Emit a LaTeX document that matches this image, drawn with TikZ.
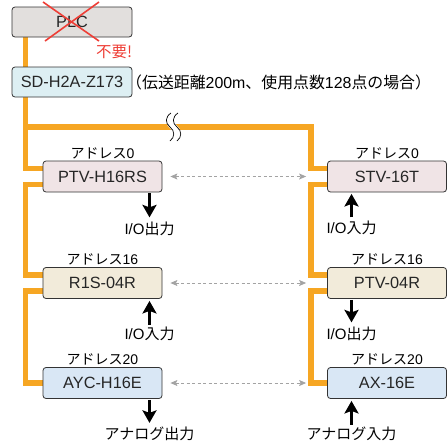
\documentclass[tikz,border=0pt]{standalone}
\usepackage{fontspec}
\setmainfont{Liberation Sans}
\newfontfamily\jp{Noto Sans CJK JP}
\usetikzlibrary{
  arrows.meta,
  backgrounds,
  positioning
}
\definecolor{bus orange}{HTML}{F6A623}
\definecolor{plc gray}{HTML}{E2DFDD}
\definecolor{master cyan}{HTML}{DDEFF3}
\definecolor{row pink}{HTML}{F0E4E6}
\definecolor{row cream}{HTML}{F2EBDA}
\definecolor{row blue}{HTML}{D9E7F5}
\definecolor{cross red}{HTML}{EE3E36}
\definecolor{link gray}{HTML}{A3A3A3}
\tikzset{
  % For the unit boxes.
  unit box/.style={
    draw=black!80,
    line width=0.8pt,
    rounded corners=3pt,
    minimum width=119pt,
    minimum height=31pt,
    inner sep=0pt,
    text=black!85,
    font=\fontsize{16.3}{16.3}\selectfont},
%
  % For the orange bus.
  bus line/.style={
    draw=bus orange,
    line width=5.5pt},
%
  % For the break in the bus.
  break line/.style={
    line width=0.7pt},
%
  % For crossing out.
  cross line/.style={
    draw=cross red,
    line width=1.6pt},
%
  % For the links between both sides.
  link arrow/.style={
    draw=link gray,
    line width=0.8pt,
    dash pattern=on 3pt off 2.5pt,
    arrows={Stealth[length=7pt,width=6pt,inset=1.5pt]-Stealth[length=7pt,width=6pt,inset=1.5pt]}},
%
  % For I/O arrows.
  io arrow/.style={
    line width=3pt,
    arrows={-Stealth[length=12.5pt,width=14pt,inset=2.5pt]}},
%
  % For addresses above the boxes.
  address/.style={
    inner sep=0pt,
    font=\fontsize{14}{14}\selectfont},
%
  % For I/O labels.
  io label/.style={
    inner sep=0pt,
    font=\fontsize{15}{15}\selectfont},
}

\begin{document}
\begin{tikzpicture}[x=1pt,y=-1pt]
  \useasboundingbox (0,0) rectangle (447,445);

  \node[unit box, fill=plc gray, minimum width=120pt, minimum height=30pt] (PLC) at (72,22) {PLC};
  \node[unit box, fill=master cyan, minimum width=120pt, minimum height=30pt] (SD) at (72,82) {SD-H2A-Z173};
  \node[anchor=west, inner sep=0pt, font=\fontsize{15.9}{15.9}\selectfont] (note) at (126,82)
    {{\jp （伝送距離}200m{\jp 、使用点数}128{\jp 点の場合）}};

  \draw[cross line] ([shift={(-29,-20)}]PLC.center) -- ([shift={(27,19)}]PLC.center);
  \draw[cross line] ([shift={(27,-20)}]PLC.center) -- ([shift={(-27,19)}]PLC.center);
  \node[inner sep=0pt, text=cross red, font=\fontsize{15.5}{15.5}\selectfont,
    below left=8pt and 0pt of PLC.south east] (unneeded) {\jp 不要!};

  % Left column.
  \node[unit box, fill=row pink] (PTVH) at (102.5,176.5) {PTV-H16RS};
  \node[unit box, fill=row cream] (R1S) at (102.5,283) {R1S-04R};
  \node[unit box, fill=row blue] (AYC) at (102.5,383) {AYC-H16E};
  % Right column.
  \node[unit box, fill=row pink] (STV) at (387,176.5) {STV-16T};
  \node[unit box, fill=row cream] (PTV) at (387,283) {PTV-04R};
  \node[unit box, fill=row blue] (AX) at (387,383) {AX-16E};

  \node[address, above=1.5pt of PTVH] (PTVH addr) {{\jp アドレス}0};
  \node[address, above=1.5pt of R1S] (R1S addr) {{\jp アドレス}16};
  \node[address, above=1.5pt of AYC] (AYC addr) {{\jp アドレス}20};
  \node[address, above=1.5pt of STV] (STV addr) {{\jp アドレス}0};
  \node[address, above=1.5pt of PTV] (PTV addr) {{\jp アドレス}16};
  \node[address, above=1.5pt of AX] (AX addr) {{\jp アドレス}20};

  \node[io label] (PTVH io) at (149.5,228.5) {I/O{\jp 出力}};
  \node[io label] (R1S io) at (149.5,334) {I/O{\jp 入力}};
  \node[io label] (AYC io) at (149.5,434) {\jp アナログ出力};
  \node[io label] (STV io) at (351.5,227.5) {I/O{\jp 入力}};
  \node[io label] (PTV io) at (351.5,333.5) {I/O{\jp 出力}};
  \node[io label] (AX io) at (351.5,434) {\jp アナログ入力};

  \draw[io arrow, shorten <=1pt, shorten >=4pt] (PTVH.south -| PTVH io) -- (PTVH io);
  \draw[io arrow, shorten <=2pt, shorten >=2pt] (R1S io) -- (R1S.south -| R1S io);
  \draw[io arrow, shorten <=1pt, shorten >=4pt] (AYC.south -| AYC io) -- (AYC io);
  \draw[io arrow, shorten <=3pt, shorten >=1.5pt] (STV io) -- (STV.south -| STV io);
  \draw[io arrow, shorten <=1pt, shorten >=4pt] (PTV.south -| PTV io) -- (PTV io);
  \draw[io arrow, shorten <=2pt, shorten >=2pt] (AX io) -- (AX.south -| AX io);

  \draw[link arrow, shorten <=8pt, shorten >=21pt] (PTVH) -- (STV);
  \draw[link arrow, shorten <=8pt, shorten >=21pt] (R1S) -- (PTV);
  \draw[link arrow, shorten <=8pt, shorten >=21pt] (AYC) -- (AX);

  \coordinate (T) at (25.5,127);
  \coordinate (R) at (311,127);
  \coordinate (brk) at (173.5,127);
  \coordinate (PTVH in) at ([yshift=8pt]PTVH.west);
  \coordinate (PTVH out) at ([yshift=-8pt]PTVH.west);
  \coordinate (R1S in) at ([yshift=8pt]R1S.west);
  \coordinate (R1S out) at ([yshift=-8pt]R1S.west);
  \coordinate (STV in) at ([yshift=8pt]STV.west);
  \coordinate (STV out) at ([yshift=-8pt]STV.west);
  \coordinate (PTV in) at ([yshift=8pt]PTV.west);
  \coordinate (PTV out) at ([yshift=-8pt]PTV.west);

  \begin{pgfonlayer}{background}
    \draw[bus line] (PLC.south -| T) -- (T) -- (R) |- (STV in);
    \draw[bus line] (T) |- (PTVH in);
    \draw[bus line] (PTVH out) -| (R1S in -| T) -- (R1S in);
    \draw[bus line] (R1S out) -| (AYC.west -| T) -- (AYC.west);
    \draw[bus line] (STV out) -| (PTV in -| R) -- (PTV in);
    \draw[bus line] (PTV out) -| (AX.west -| R) -- (AX.west);
  \end{pgfonlayer}

  % The bus is cut short here.
  \begin{scope}[shift={(brk)}]
    \draw[white, line width=7pt] (1,-14) .. controls (-5,-10) and (-5,-4) .. (0,0)
      .. controls (5,4) and (5,10) .. (0,14);
    \foreach \dx in {-3.5,3.5}
      \draw[break line] (\dx+1,-14) .. controls (\dx-5,-10) and (\dx-5,-4) .. (\dx,0)
        .. controls (\dx+5,4) and (\dx+5,10) .. (\dx,14);
  \end{scope}
\end{tikzpicture}
\end{document}
